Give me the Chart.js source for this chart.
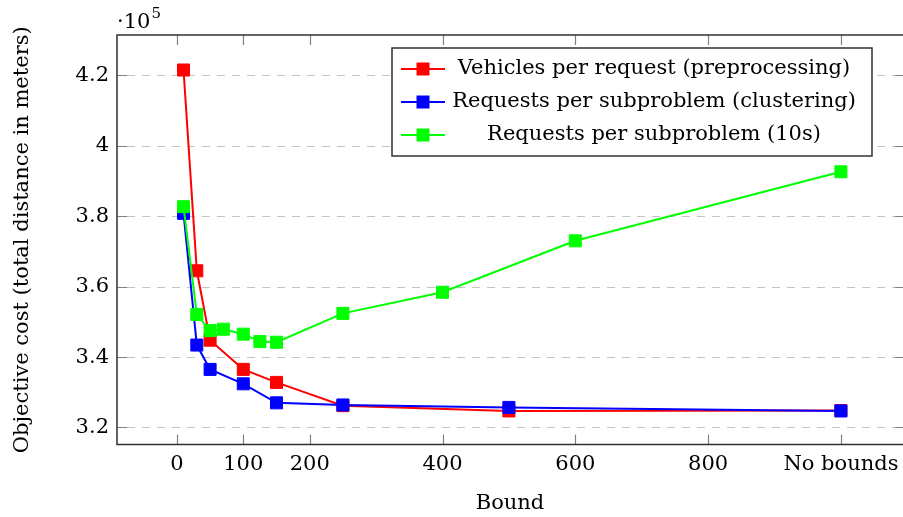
<!DOCTYPE html>
<html>
<head>
<meta charset="utf-8">
<title>Objective cost vs bound</title>
<script src="https://cdn.jsdelivr.net/npm/chart.js@4.4.1/dist/chart.umd.min.js"></script>
<style>
  html, body { margin: 0; padding: 0; background: #fff; }
  canvas { display: block; }
</style>
</head>
<body>
<canvas id="cost-chart" width="903" height="517"></canvas>
<script>
// bound values (1000 stands for "No bounds")
const boundsRed   = [10, 30, 50, 100, 150, 250, 500, 1000]
const boundsBlue  = [10, 30, 50, 100, 150, 250, 500, 1000]
const boundsGreen = [10, 30, 50, 70, 100, 125, 150, 250, 400, 600, 1000]

// objective cost, total distance in meters
const costVehiclesPre   = [421500, 364500, 344800, 336500, 332800, 326200, 324700, 324800]
const costRequestsClust = [380800, 343400, 336500, 332400, 327000, 326400, 325700, 324700]
const costRequests10s   = [382700, 352100, 347500, 347900, 346500, 344400, 344200, 352400, 358400, 373000, 392600]

const seriesNames = [
  'Vehicles per request (preprocessing)',
  'Requests per subproblem (clustering)',
  'Requests per subproblem (10s)'
]

const xTicks      = [0, 100, 200, 400, 600, 800, 1000]
const xTickLabels = ['0', '100', '200', '400', '600', '800', 'No bounds']
const yTicks      = [320000, 340000, 360000, 380000, 400000, 420000]

const FONT = 'DejaVu Serif'
const FONT_SIZE = 21
const toPoints = (xs, ys) => xs.map((x, i) => ({ x, y: ys[i] }))

Chart.defaults.color = '#000'
Chart.defaults.font.family = FONT
Chart.defaults.font.size = FONT_SIZE

function series(label, xs, ys, color, order) {
  return {
    label,
    data: toPoints(xs, ys),
    borderColor: color,
    backgroundColor: color,
    borderWidth: 2,
    tension: 0,
    pointStyle: 'rect',
    pointRadius: 8.5,
    pointHoverRadius: 8.5,
    pointBorderWidth: 1,
    pointBorderColor: color,
    pointBackgroundColor: color,
    order
  }
}

// dashed grid, frame and inward ticks on all four sides
const framePlugin = {
  id: 'frame',
  beforeDatasetsDraw(chart) {
    const { ctx, chartArea: a, scales: { x, y } } = chart
    // the plot box runs a couple of pixels past the canvas on the right
    const right = a.right + 2
    ctx.save()
    ctx.lineWidth = 1.2
    ctx.strokeStyle = '#c4c4c4'
    ctx.setLineDash([8, 7])
    yTicks.forEach(v => {
      const py = Math.round(y.getPixelForValue(v)) + 0.5
      ctx.beginPath()
      ctx.moveTo(a.left + 10, py)
      ctx.lineTo(right - 10, py)
      ctx.stroke()
    })
    ctx.setLineDash([])

    const tick = 10
    ctx.strokeStyle = '#808080'
    ctx.lineWidth = 1.2
    xTicks.forEach(v => {
      const px = Math.round(x.getPixelForValue(v)) + 0.5
      ctx.beginPath()
      ctx.moveTo(px, a.bottom); ctx.lineTo(px, a.bottom - tick)
      ctx.moveTo(px, a.top);    ctx.lineTo(px, a.top + tick)
      ctx.stroke()
    })
    yTicks.forEach(v => {
      const py = Math.round(y.getPixelForValue(v)) + 0.5
      ctx.beginPath()
      ctx.moveTo(a.left, py); ctx.lineTo(a.left + tick, py)
      ctx.moveTo(right, py);  ctx.lineTo(right - tick, py)
      ctx.stroke()
    })

    ctx.strokeStyle = '#303030'
    ctx.lineWidth = 1.5
    ctx.strokeRect(a.left, a.top, right - a.left, a.bottom - a.top)
    ctx.restore()
  },
  afterDraw(chart) {
    const { ctx, chartArea: a } = chart
    ctx.save()
    // axis multiplier
    ctx.fillStyle = '#000'
    ctx.textBaseline = 'alphabetic'
    ctx.textAlign = 'left'
    ctx.font = `${FONT_SIZE}px ${FONT}`
    ctx.fillText('·10', a.left, 28)
    const w = ctx.measureText('·10').width
    ctx.font = `15px ${FONT}`
    ctx.fillText('5', a.left + w + 1, 18)
    ctx.restore()
  }
}

// boxed legend with line + square samples, text centred in its column
const legendPlugin = {
  id: 'boxLegend',
  afterDraw(chart) {
    const { ctx } = chart
    const box = { left: 392, top: 48, right: 872, bottom: 156 }
    const rowH = 33
    ctx.save()
    ctx.fillStyle = '#fff'
    ctx.fillRect(box.left, box.top, box.right - box.left, box.bottom - box.top)
    ctx.strokeStyle = '#303030'
    ctx.lineWidth = 1.5
    ctx.strokeRect(box.left, box.top, box.right - box.left, box.bottom - box.top)

    chart.data.datasets.forEach((ds, i) => {
      const cy = box.top + 21 + i * rowH
      ctx.strokeStyle = ds.borderColor
      ctx.lineWidth = 2
      ctx.beginPath()
      ctx.moveTo(401, cy)
      ctx.lineTo(445, cy)
      ctx.stroke()
      ctx.fillStyle = ds.borderColor
      ctx.fillRect(423 - 6.5, cy - 6.5, 13, 13)

      ctx.fillStyle = '#000'
      ctx.font = `${FONT_SIZE}px ${FONT}`
      ctx.textAlign = 'center'
      ctx.textBaseline = 'middle'
      ctx.fillText(ds.label, 654, cy)
    })
    ctx.restore()
  }
}

new Chart(document.getElementById('cost-chart').getContext('2d'), {
  type: 'line',
  data: {
    datasets: [
      series(seriesNames[0], boundsRed, costVehiclesPre, '#ff0000', 3),
      series(seriesNames[1], boundsBlue, costRequestsClust, '#0000ff', 2),
      series(seriesNames[2], boundsGreen, costRequests10s, '#00ff00', 1)
    ]
  },
  options: {
    responsive: false,
    animation: false,
    layout: { autoPadding: false, padding: { top: 35, right: 0, left: 0, bottom: 0 } },
    plugins: {
      legend: { display: false },
      tooltip: { enabled: false }
    },
    scales: {
      x: {
        type: 'linear',
        min: -90.2,
        max: 1093.5,
        afterFit: scale => {
          scale.height = 72.5
          scale.paddingLeft = 0
          scale.paddingRight = 0
        },
        afterBuildTicks: scale => { scale.ticks = xTicks.map(value => ({ value })) },
        grid: { display: false, drawTicks: false },
        border: { display: false },
        ticks: {
          padding: 7,
          autoSkip: false,
          maxRotation: 0,
          callback: v => xTickLabels[xTicks.indexOf(v)]
        },
        title: { display: true, text: 'Bound', padding: { top: 0, bottom: 1 } }
      },
      y: {
        type: 'linear',
        min: 315170,
        max: 431440,
        afterFit: scale => {
          scale.width = 117
          scale.paddingTop = 0
          scale.paddingBottom = 0
        },
        afterBuildTicks: scale => { scale.ticks = yTicks.map(value => ({ value })) },
        grid: { display: false, drawTicks: false },
        border: { display: false },
        ticks: {
          padding: 8,
          callback: v => String(v / 1e5)
        },
        title: {
          display: true,
          text: 'Objective cost (total distance in meters)',
          padding: { top: 10, bottom: 0 }
        }
      }
    }
  },
  plugins: [framePlugin, legendPlugin]
})
</script>
</body>
</html>
